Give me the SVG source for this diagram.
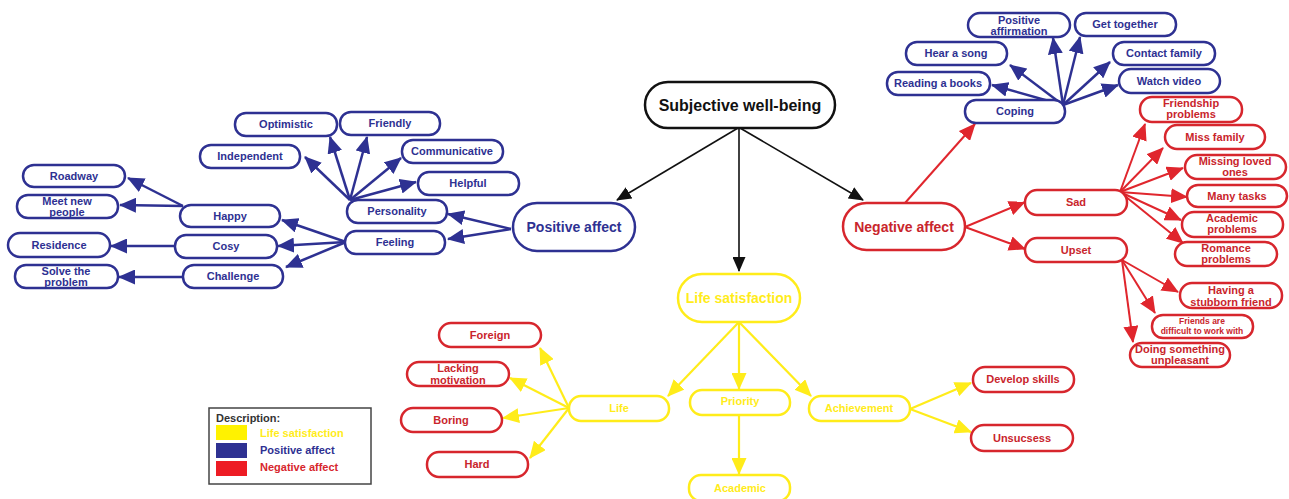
<svg xmlns="http://www.w3.org/2000/svg" width="1289" height="499" viewBox="0 0 1289 499">
<style>
text{font-family:"Liberation Sans",Arial,sans-serif;font-weight:bold;text-anchor:middle}
.b rect{fill:#fff;stroke:#2E3192;stroke-width:2.5}
.b text{fill:#2E3192;font-size:11px}
.r rect{fill:#fff;stroke:#D7262D;stroke-width:2.5}
.r text{fill:#C9252C;font-size:11px}
.y rect{fill:#fff;stroke:#FFEC1A;stroke-width:2.5}
.y text{fill:#FFEC1A;font-size:11px}
.k rect{fill:#fff;stroke:#111;stroke-width:2.5}
.sm{font-size:9.5px}
.lb line{stroke:#2E3192;stroke-width:2.5;marker-end:url(#ab)}
.lr line{stroke:#E0262D;stroke-width:2;marker-end:url(#ar)}
.ly line{stroke:#FFEC1A;stroke-width:2.2;marker-end:url(#ay)}
.lk line{stroke:#111;stroke-width:1.6;marker-end:url(#ak)}
</style>
<defs>
<marker id="ab" markerUnits="userSpaceOnUse" markerWidth="17" markerHeight="15" refX="16" refY="7.5" orient="auto"><path d="M0,0L17,7.5L0,15z" fill="#2E3192"/></marker>
<marker id="ar" markerUnits="userSpaceOnUse" markerWidth="17" markerHeight="15" refX="16" refY="7.5" orient="auto"><path d="M0,0L17,7.5L0,15z" fill="#E0262D"/></marker>
<marker id="ay" markerUnits="userSpaceOnUse" markerWidth="17" markerHeight="15" refX="16" refY="7.5" orient="auto"><path d="M0,0L17,7.5L0,15z" fill="#FFEC1A"/></marker>
<marker id="ak" markerUnits="userSpaceOnUse" markerWidth="15" markerHeight="13" refX="14" refY="6.5" orient="auto"><path d="M0,0L15,6.5L0,13z" fill="#111"/></marker>
</defs>
<rect width="1289" height="499" fill="#fff"/>
<g id="connectors">
<g class="lk">
<line x1="738" y1="128" x2="617" y2="200"/>
<line x1="739" y1="128" x2="739" y2="271"/>
<line x1="740" y1="128" x2="863" y2="200"/>
</g>
<g class="lb">
<line x1="511" y1="229" x2="448" y2="214"/>
<line x1="511" y1="229" x2="448" y2="239"/>
<line x1="350" y1="200" x2="305" y2="157"/>
<line x1="350" y1="200" x2="330" y2="137"/>
<line x1="350" y1="200" x2="367" y2="137"/>
<line x1="350" y1="200" x2="401" y2="158"/>
<line x1="350" y1="200" x2="416" y2="182"/>
<line x1="346" y1="242" x2="282" y2="220"/>
<line x1="346" y1="242" x2="278" y2="246"/>
<line x1="346" y1="242" x2="286" y2="267"/>
<line x1="183" y1="206" x2="128" y2="178"/>
<line x1="183" y1="206" x2="120" y2="205"/>
<line x1="175" y1="246" x2="111" y2="246"/>
<line x1="183" y1="277" x2="119" y2="277"/>
<line x1="1063" y1="105" x2="992" y2="85"/>
<line x1="1063" y1="105" x2="1010" y2="65"/>
<line x1="1063" y1="105" x2="1053" y2="38"/>
<line x1="1063" y1="105" x2="1080" y2="37"/>
<line x1="1063" y1="105" x2="1110" y2="62"/>
<line x1="1063" y1="105" x2="1118" y2="85"/>
</g>
<g class="lr">
<line x1="905" y1="203" x2="975" y2="124"/>
<line x1="965" y1="227" x2="1025" y2="202"/>
<line x1="965" y1="227" x2="1025" y2="249"/>
<line x1="1120" y1="192" x2="1145" y2="124"/>
<line x1="1120" y1="192" x2="1163" y2="148"/>
<line x1="1120" y1="192" x2="1183" y2="168"/>
<line x1="1120" y1="192" x2="1187" y2="197"/>
<line x1="1120" y1="192" x2="1181" y2="220"/>
<line x1="1120" y1="192" x2="1183" y2="243"/>
<line x1="1122" y1="260" x2="1178" y2="292"/>
<line x1="1122" y1="260" x2="1155" y2="313"/>
<line x1="1122" y1="260" x2="1133" y2="342"/>
</g>
<g class="ly">
<line x1="739" y1="322" x2="668" y2="396"/>
<line x1="739" y1="322" x2="739" y2="389"/>
<line x1="739" y1="322" x2="811" y2="396"/>
<line x1="739" y1="415" x2="739" y2="474"/>
<line x1="910" y1="409" x2="971" y2="383"/>
<line x1="910" y1="409" x2="971" y2="432"/>
<line x1="569" y1="408" x2="540" y2="348"/>
<line x1="569" y1="408" x2="510" y2="378"/>
<line x1="569" y1="408" x2="503" y2="418"/>
<line x1="569" y1="408" x2="530" y2="458"/>
</g>
</g>
<g id="n-swb" class="k"><rect x="645" y="82" width="190" height="46" rx="23"/><text x="740" y="111" font-size="16" fill="#111">Subjective well-being</text></g>
<g id="n-pa" class="b"><rect x="513" y="203" width="122" height="48" rx="24"/><text x="574" y="232" style="font-size:14px">Positive affect</text></g>
<g id="n-ls" class="y"><rect x="678" y="274" width="122" height="48" rx="24"/><text x="739" y="303" style="font-size:14px">Life satisfaction</text></g>
<g id="n-na" class="r"><rect x="843" y="203" width="122" height="47" rx="23.5"/><text x="904" y="232" style="font-size:14px">Negative affect</text></g>
<g id="n-personality" class="b"><rect x="347" y="200" width="100" height="23" rx="11"/><text x="397" y="215">Personality</text></g>
<g id="n-feeling" class="b"><rect x="345" y="231" width="100" height="23" rx="11"/><text x="395" y="246">Feeling</text></g>
<g id="n-optimistic" class="b"><rect x="235" y="113" width="102" height="23" rx="11"/><text x="286" y="128">Optimistic</text></g>
<g id="n-friendly" class="b"><rect x="340" y="112" width="100" height="23" rx="11"/><text x="390" y="127">Friendly</text></g>
<g id="n-independent" class="b"><rect x="200" y="145" width="100" height="23" rx="11"/><text x="250" y="160">Independent</text></g>
<g id="n-communicative" class="b"><rect x="402" y="140" width="101" height="23" rx="11"/><text x="452" y="155">Communicative</text></g>
<g id="n-helpful" class="b"><rect x="418" y="172" width="101" height="23" rx="11"/><text x="468" y="187">Helpful</text></g>
<g id="n-happy" class="b"><rect x="180" y="205" width="100" height="22" rx="11"/><text x="230" y="220">Happy</text></g>
<g id="n-cosy" class="b"><rect x="175" y="235" width="102" height="23" rx="11"/><text x="226" y="250">Cosy</text></g>
<g id="n-challenge" class="b"><rect x="183" y="265" width="100" height="23" rx="11"/><text x="233" y="280">Challenge</text></g>
<g id="n-roadway" class="b"><rect x="23" y="165" width="102" height="22" rx="11"/><text x="74" y="180">Roadway</text></g>
<g id="n-meet" class="b"><rect x="17" y="195" width="101" height="23" rx="11"/><text x="67" y="205" class="sm">Meet new<tspan x="67" dy="10.5">people</tspan></text></g>
<g id="n-residence" class="b"><rect x="8" y="233" width="102" height="24" rx="12"/><text x="59" y="249">Residence</text></g>
<g id="n-solve" class="b"><rect x="15" y="265" width="103" height="23" rx="11"/><text x="66" y="275" class="sm">Solve the<tspan x="66" dy="10.5">problem</tspan></text></g>
<g id="n-coping" class="b"><rect x="965" y="100" width="100" height="23" rx="11"/><text x="1015" y="115">Coping</text></g>
<g id="n-posaff" class="b"><rect x="968" y="13" width="102" height="24" rx="12"/><text x="1019" y="24" class="sm">Positive<tspan x="1019" dy="10.5">affirmation</tspan></text></g>
<g id="n-gettogether" class="b"><rect x="1075" y="13" width="101" height="23" rx="11"/><text x="1125" y="28">Get together</text></g>
<g id="n-hearsong" class="b"><rect x="906" y="42" width="101" height="23" rx="11"/><text x="956" y="57">Hear a song</text></g>
<g id="n-contact" class="b"><rect x="1113" y="42" width="102" height="23" rx="11"/><text x="1164" y="57">Contact family</text></g>
<g id="n-reading" class="b"><rect x="887" y="72" width="103" height="23" rx="11"/><text x="938" y="87">Reading a books</text></g>
<g id="n-watch" class="b"><rect x="1119" y="69" width="101" height="24" rx="12"/><text x="1169" y="85">Watch video</text></g>
<g id="n-sad" class="r"><rect x="1025" y="190" width="102" height="25" rx="12"/><text x="1076" y="206">Sad</text></g>
<g id="n-upset" class="r"><rect x="1025" y="238" width="102" height="24" rx="12"/><text x="1076" y="254">Upset</text></g>
<g id="n-friendship" class="r"><rect x="1140" y="97" width="102" height="25" rx="12"/><text x="1191" y="107" class="sm">Friendship<tspan x="1191" dy="11">problems</tspan></text></g>
<g id="n-missfamily" class="r"><rect x="1165" y="125" width="100" height="24" rx="12"/><text x="1215" y="141">Miss family</text></g>
<g id="n-missing" class="r"><rect x="1185" y="155" width="101" height="24" rx="12"/><text x="1235" y="165">Missing loved<tspan x="1235" dy="11">ones</tspan></text></g>
<g id="n-manytasks" class="r"><rect x="1187" y="185" width="100" height="22" rx="11"/><text x="1237" y="200">Many tasks</text></g>
<g id="n-academicp" class="r"><rect x="1182" y="212" width="101" height="25" rx="12"/><text x="1232" y="222" class="sm">Academic<tspan x="1232" dy="11">problems</tspan></text></g>
<g id="n-romance" class="r"><rect x="1175" y="242" width="102" height="24" rx="12"/><text x="1226" y="252" class="sm">Romance<tspan x="1226" dy="11">problems</tspan></text></g>
<g id="n-stubborn" class="r"><rect x="1180" y="283" width="102" height="25" rx="12"/><text x="1231" y="294">Having a<tspan x="1231" dy="11.5">stubborn friend</tspan></text></g>
<g id="n-friendsare" class="r"><rect x="1152" y="315" width="101" height="23" rx="11"/><text x="1202" y="324" style="font-size:8.5px">Friends are<tspan x="1202" dy="10">difficult to work with</tspan></text></g>
<g id="n-doing" class="r"><rect x="1130" y="343" width="100" height="24" rx="12"/><text x="1180" y="353" class="sm">Doing something<tspan x="1180" dy="11">unpleasant</tspan></text></g>
<g id="n-life" class="y"><rect x="569" y="396" width="100" height="25" rx="12"/><text x="619" y="412">Life</text></g>
<g id="n-priority" class="y"><rect x="690" y="390" width="100" height="25" rx="12"/><text x="740" y="405">Priority</text></g>
<g id="n-achievement" class="y"><rect x="809" y="396" width="101" height="25" rx="12"/><text x="859" y="412">Achievement</text></g>
<g id="n-academic" class="y"><rect x="689" y="475" width="101" height="26" rx="12"/><text x="740" y="492">Academic</text></g>
<g id="n-develop" class="r"><rect x="973" y="367" width="101" height="25" rx="12"/><text x="1023" y="383">Develop skills</text></g>
<g id="n-unsucsess" class="r"><rect x="971" y="425" width="102" height="26" rx="13"/><text x="1022" y="442">Unsucsess</text></g>
<g id="n-foreign" class="r"><rect x="439" y="323" width="102" height="24" rx="12"/><text x="490" y="339">Foreign</text></g>
<g id="n-lacking" class="r"><rect x="407" y="362" width="102" height="24" rx="12"/><text x="458" y="372">Lacking<tspan x="458" dy="12">motivation</tspan></text></g>
<g id="n-boring" class="r"><rect x="401" y="408" width="101" height="24" rx="12"/><text x="451" y="424">Boring</text></g>
<g id="n-hard" class="r"><rect x="427" y="452" width="101" height="25" rx="12"/><text x="477" y="468">Hard</text></g>
<g id="legend">
<rect x="209" y="408" width="162" height="76" fill="#fff" stroke="#444" stroke-width="1.5"/>
<text x="216" y="422" style="text-anchor:start;font-size:11px" fill="#333">Description:</text>
<rect x="216" y="425" width="31" height="15" fill="#FFF200"/>
<rect x="216" y="443" width="31" height="15" fill="#2E3192"/>
<rect x="216" y="461" width="31" height="15" fill="#ED1C24"/>
<text x="260" y="437" style="text-anchor:start;font-size:11px" fill="#FFEC1A">Life satisfaction</text>
<text x="260" y="454" style="text-anchor:start;font-size:11px" fill="#2E3192">Positive affect</text>
<text x="260" y="471" style="text-anchor:start;font-size:11px" fill="#D7262D">Negative affect</text>
</g>
</svg>
